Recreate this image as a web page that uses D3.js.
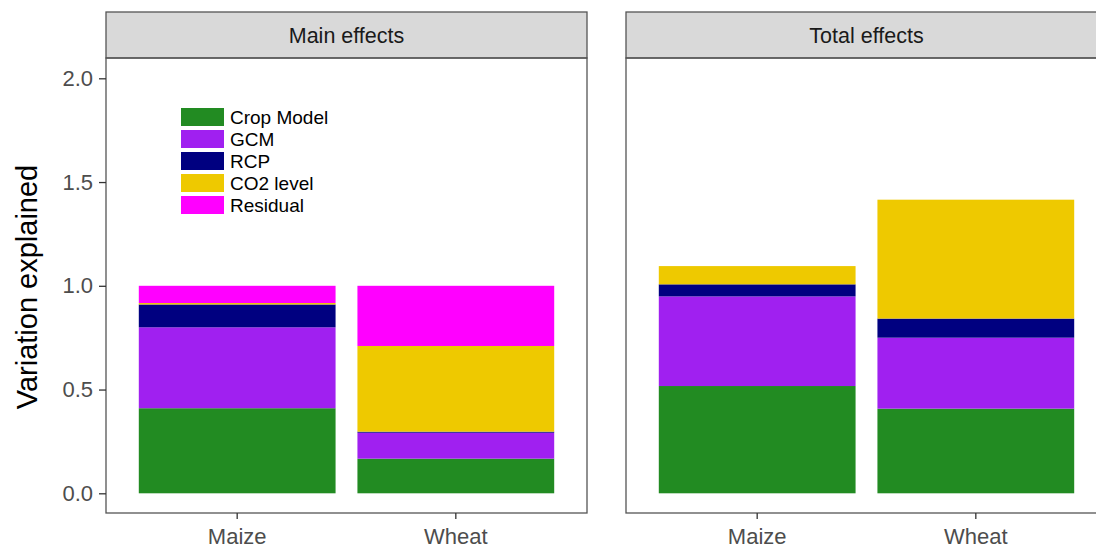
<!DOCTYPE html>
<html>
<head>
<meta charset="utf-8">
<script src="https://cdn.jsdelivr.net/npm/d3@7"></script>
<style>
  html, body { margin: 0; padding: 0; background: #fff; }
  svg { display: block; font-family: "Liberation Sans", Arial, Helvetica, sans-serif; }
</style>
</head>
<body>
<svg id="chart" width="1096" height="549"></svg>
<script>
// ---- data ----
const categories = ["Maize", "Wheat"];
const components = ["Crop Model", "GCM", "RCP", "CO2 level", "Residual"];
const componentColors = ["#228B22", "#A020F0", "#000080", "#EEC900", "#FF00FF"];
const facets = ["Main effects", "Total effects"];
// values per component, order = components
const mainMaize  = [0.410, 0.390, 0.110, 0.007, 0.083];
const mainWheat  = [0.167, 0.125, 0.005, 0.413, 0.290];
const totalMaize = [0.517, 0.432, 0.058, 0.088, 0.000];
const totalWheat = [0.408, 0.342, 0.092, 0.573, 0.000];
const yTicks = [0.0, 0.5, 1.0, 1.5, 2.0];
const yTickLabels = ["0.0", "0.5", "1.0", "1.5", "2.0"];
const yTitle = "Variation explained";

// ---- build tables ----
function rows(a, b) {
  return [a, b].map((vals, i) => {
    const r = { category: categories[i] };
    components.forEach((c, j) => r[c] = vals[j]);
    return r;
  });
}
const facetData = [rows(mainMaize, mainWheat), rows(totalMaize, totalWheat)];

const svg = d3.select("#chart");
const color = d3.scaleOrdinal().domain(components).range(componentColors);

const panels = [
  { x0: 106, x1: 587 },
  { x0: 626, x1: 1107 }
];
const stripTop = 12, stripBottom = 58, panelBottom = 513;
const y = d3.scaleLinear().domain([0, 2]).range([493.3, 78.3]);
const stack = d3.stack().keys(components);
const border = "#555555";

facets.forEach((f, fi) => {
  const p = panels[fi];
  const x = d3.scaleBand().domain(categories).range([p.x0, p.x1])
    .paddingInner(0.1).paddingOuter(0.15);
  const g = svg.append("g");

  // strip
  g.append("rect").attr("x", p.x0).attr("y", stripTop)
    .attr("width", p.x1 - p.x0).attr("height", stripBottom - stripTop)
    .attr("fill", "#d9d9d9").attr("stroke", border).attr("stroke-width", 1.3);
  g.append("text").attr("x", (p.x0 + p.x1) / 2).attr("y", 43)
    .attr("text-anchor", "middle").attr("font-size", 21.5).attr("fill", "#1a1a1a")
    .text(f);

  // bars
  const series = stack(facetData[fi]);
  g.append("g").selectAll("g").data(series).join("g")
    .attr("fill", d => color(d.key))
    .selectAll("rect").data(d => d.filter(v => v[1] - v[0] > 0)).join("rect")
    .attr("x", d => x(d.data.category))
    .attr("width", x.bandwidth())
    .attr("y", d => y(d[1]))
    .attr("height", d => y(d[0]) - y(d[1]));

  // panel border
  g.append("rect").attr("x", p.x0).attr("y", stripBottom)
    .attr("width", p.x1 - p.x0).attr("height", panelBottom - stripBottom)
    .attr("fill", "none").attr("stroke", border).attr("stroke-width", 1.3);

  // x axis
  const xa = g.append("g").attr("transform", `translate(0,${panelBottom})`)
    .call(d3.axisBottom(x).tickSize(6).tickPadding(9));
  xa.select(".domain").remove();
  xa.selectAll(".tick line").attr("stroke", "#333").attr("stroke-width", 1.3);
  xa.selectAll(".tick text").attr("font-size", 22).attr("fill", "#4d4d4d")
    .attr("font-family", "Liberation Sans, Arial, sans-serif");

  // y axis only on the first panel
  if (fi === 0) {
    const ya = g.append("g").attr("transform", `translate(${p.x0},0)`)
      .call(d3.axisLeft(y).tickValues(yTicks).tickFormat((d, i) => yTickLabels[i])
        .tickSize(7).tickPadding(6));
    ya.select(".domain").remove();
    ya.selectAll(".tick line").attr("stroke", "#333").attr("stroke-width", 1.3);
    ya.selectAll(".tick text").attr("font-size", 22).attr("fill", "#4d4d4d")
      .attr("font-family", "Liberation Sans, Arial, sans-serif");
  }
});

// y title
svg.append("text")
  .attr("transform", "translate(37,287) rotate(-90)")
  .attr("text-anchor", "middle").attr("font-size", 29).attr("fill", "#000")
  .text(yTitle);

// legend
const legend = svg.append("g").attr("transform", "translate(181,108)");
const li = legend.selectAll("g").data(components).join("g")
  .attr("transform", (d, i) => `translate(0,${i * 22})`);
li.append("rect").attr("width", 43).attr("height", 18).attr("fill", d => color(d));
li.append("text").attr("x", 49).attr("y", 15.5).attr("font-size", 19)
  .attr("fill", "#000").text(d => d);
</script>
</body>
</html>
